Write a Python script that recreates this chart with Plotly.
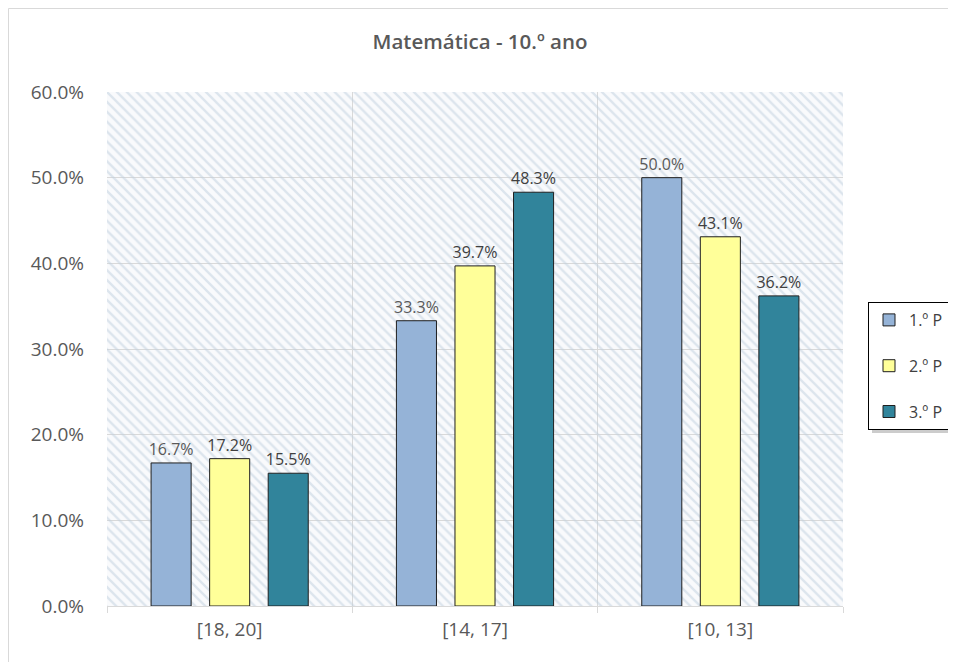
import plotly.graph_objects as go

categories = ["[18, 20]", "[14, 17]", "[10, 13]"]
series_names = ["1.º P", "2.º P", "3.º P"]
p1 = [16.7, 33.3, 50.0]
p2 = [17.2, 39.7, 43.1]
p3 = [15.5, 48.3, 36.2]
colors = ["#95B3D7", "#FFFF99", "#31849B"]
label_colors = ["#595959", "#404040", "#404040"]
y_max = 60

FONT = "Open Sans"
W, H = 948, 654  # page has 8px body margin
L, T = 99, 84
PW, PH = 736, 514


def px(fx):
    return (fx - L) / PW


def py(fy):
    return (T + PH - fy) / PH


fig = go.Figure()

# hatched plot-area background (decoration) on hidden numeric axis
fig.add_trace(go.Bar(
    x=[0.5], y=[y_max], width=[1], xaxis="x", yaxis="y",
    marker=dict(color="rgba(0,0,0,0)", line=dict(width=0),
                pattern=dict(shape="\\", fgcolor="#C0CFDE", bgcolor="rgba(0,0,0,0)",
                             size=7, solidity=0.34)),
    showlegend=False, hoverinfo="skip"))

for i, (name, vals) in enumerate(zip(series_names, [p1, p2, p3])):
    fig.add_trace(go.Bar(
        x=categories, y=vals, name=name, xaxis="x2", yaxis="y",
        marker=dict(color=colors[i], line=dict(color="#1F1F1F", width=1)),
        texttemplate="%{y:.1f}%", textposition="outside", constraintext="none",
        textfont=dict(family=FONT, size=16, color=label_colors[i]),
        cliponaxis=False, legendgroup=name))

fig.update_layout(
    width=W, height=H,
    margin=dict(l=L, r=W - L - PW, t=T, b=H - T - PH, autoexpand=False),
    paper_bgcolor="white", plot_bgcolor="#F9FAFC",
    title=dict(text="Matemática - 10.º ano", x=(480 - 8) / W, xref="container", xanchor="center",
               y=1 - 34 / H, yref="container", yanchor="middle",
               font=dict(family=FONT, size=20.5, color="#595959", weight=600)),
    barmode="group", bargap=0.284, bargroupgap=0.316,
    xaxis=dict(range=[0, 1], visible=False, fixedrange=True),
    xaxis2=dict(overlaying="x", side="bottom", type="category",
                tickson="boundaries", showgrid=True, gridcolor="#D9D9D9",
                ticks="outside", ticklen=6, tickcolor="#D9D9D9",
                showline=True, linecolor="#D9D9D9", linewidth=1,
                tickfont=dict(family=FONT, size=19, color="#595959"), ticklabelstandoff=6),
    yaxis=dict(range=[0, y_max], dtick=10, tickformat=".1f", ticksuffix="%",
               showgrid=True, gridcolor="#D9D9D9", zeroline=False,
               tickfont=dict(family=FONT, size=19, color="#595959"), ticklabelstandoff=22),
    legend=dict(xref="container", yref="container", x=860 / W, y=1 - 294 / H,
                xanchor="left", yanchor="top", bordercolor="#000000", borderwidth=1,
                bgcolor="white", tracegroupgap=22,
                font=dict(family=FONT, size=16, color="#404040")),
    shapes=[
        # chart outer border (left and top edges)
        dict(type="line", xref="paper", yref="paper", x0=px(0.5), x1=px(0.5),
             y0=py(H), y1=py(0.5), line=dict(color="#D9D9D9", width=1), layer="below"),
        dict(type="line", xref="paper", yref="paper", x0=px(0.5), x1=px(W),
             y0=py(0.5), y1=py(0.5), line=dict(color="#D9D9D9", width=1), layer="below"),
        # legend drop shadow
        dict(type="rect", xref="paper", yref="paper", x0=px(864), x1=px(944),
             y0=py(425), y1=py(299), line=dict(width=0), fillcolor="rgba(0,0,0,0.2)",
             layer="above"),
    ],
)

fig.write_html("out.html")
